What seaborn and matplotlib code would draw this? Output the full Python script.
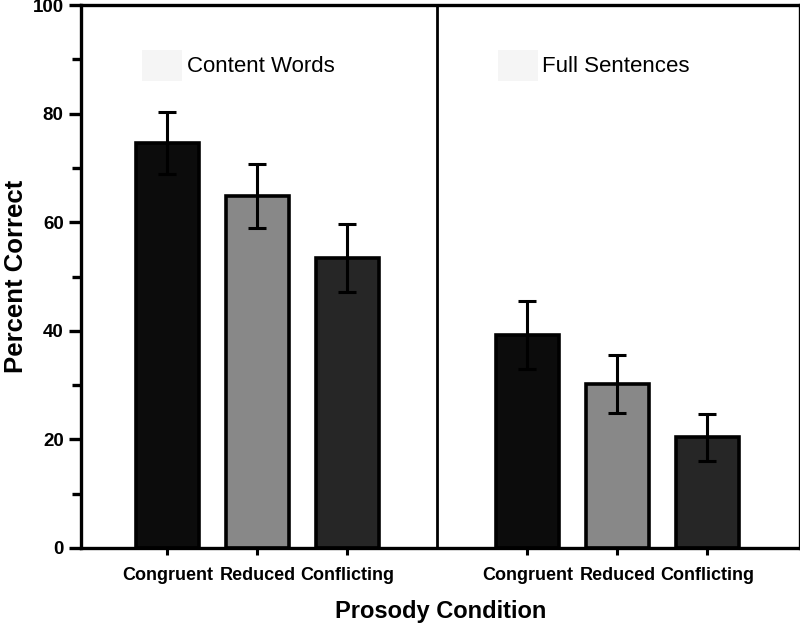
import pandas as pd
import seaborn as sns
import matplotlib.pyplot as plt
from matplotlib.patches import Patch
from matplotlib.ticker import MultipleLocator

# Values
conditions = ['Congruent', 'Reduced', 'Conflicting', 'Congruent', 'Reduced', 'Conflicting']
tasks = ['Content Words'] * 3 + ['Full Sentences'] * 3
positions = [0, 1, 2, 4, 5, 6]
percent_correct = [74.6, 64.8, 53.4, 39.2, 30.2, 20.4]
error = [5.7, 5.9, 6.2, 6.2, 5.3, 4.3]
bar_colors = {'Congruent': '#0c0c0c', 'Reduced': '#888888', 'Conflicting': '#262626'}

df = pd.DataFrame({'pos': positions, 'condition': conditions, 'task': tasks,
                   'pct': percent_correct, 'err': error})

sns.set_style('ticks')
plt.rcParams['font.family'] = ['Liberation Sans', 'DejaVu Sans']
plt.rcParams['text.color'] = 'black'
plt.rcParams['axes.labelcolor'] = 'black'
plt.rcParams['xtick.color'] = 'black'
plt.rcParams['ytick.color'] = 'black'

fig = plt.figure(figsize=(8, 6.25), dpi=100)
ax = fig.add_axes([81 / 800, 1 - 548 / 625, 719 / 800, 543 / 625])

sns.barplot(data=df, x='pos', y='pct', hue='condition', palette=bar_colors,
            native_scale=True, dodge=False, width=0.7, legend=False,
            edgecolor='black', linewidth=2.6, ax=ax)

ax.errorbar(df['pos'], df['pct'], yerr=df['err'], fmt='none', ecolor='black',
            elinewidth=2.2, capsize=6.5, capthick=2.2, zorder=5)

# divider between the two panels
ax.axvline(3, color='black', lw=2)

ax.set_xlim(-0.96, 7.03)
ax.set_ylim(0, 100)
ax.yaxis.set_major_locator(MultipleLocator(20))
ax.yaxis.set_minor_locator(MultipleLocator(10))
ax.set_xticks(positions)
ax.set_xticklabels(conditions, fontsize=13, fontweight='bold')
for lbl in ax.get_yticklabels():
    lbl.set_fontsize(13.5)
    lbl.set_fontweight('bold')

ax.tick_params(axis='y', which='major', direction='out', length=9, width=2.4, pad=3.5)
ax.tick_params(axis='y', which='minor', direction='out', length=6.5, width=2.4)
ax.tick_params(axis='x', direction='out', length=5, width=2.2, pad=9)

for side in ['left', 'bottom', 'top', 'right']:
    ax.spines[side].set_visible(True)
    ax.spines[side].set_linewidth(2.4)
    ax.spines[side].set_color('black')

ax.set_ylabel('Percent Correct', fontsize=18.5, fontweight='bold')
ax.yaxis.set_label_coords(-0.074, 0.5)
ax.set_xlabel('Prosody Condition', fontsize=17, fontweight='bold', labelpad=11)

# panel labels with the faint legend square
leg_kw = dict(loc='center left', frameon=False, fontsize=16, handlelength=1.8,
              handleheight=1.8, handletextpad=0.2, borderpad=0, borderaxespad=0)
leg1 = ax.legend([Patch(facecolor='#f5f5f5', edgecolor='none')], ['Content Words'],
                 bbox_to_anchor=(0.085, 0.889), **leg_kw)
ax.add_artist(leg1)
ax.legend([Patch(facecolor='#f5f5f5', edgecolor='none')], ['Full Sentences'],
          bbox_to_anchor=(0.58, 0.889), **leg_kw)

fig.savefig('out.png', dpi=100)
